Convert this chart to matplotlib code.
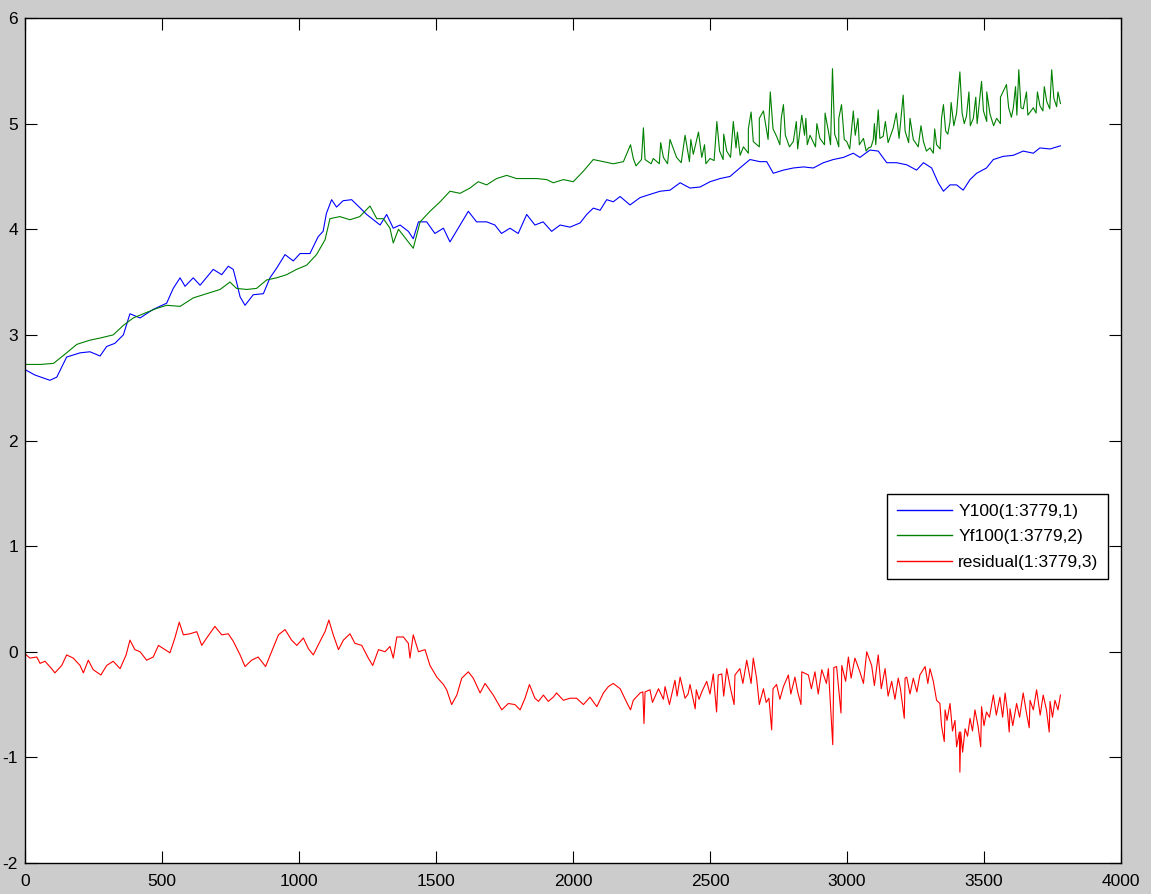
import matplotlib
matplotlib.use("Agg")
import matplotlib.pyplot as plt
import numpy as np

# Y100(:,1) - measured series
y100_x = [1, 36, 91, 116, 152, 201, 237, 274, 298, 328, 359, 383, 420, 467, 517, 541, 566, 584,
          614, 639, 687, 718, 742, 760, 772, 785, 803, 833, 870, 894, 918, 949, 979, 1004, 1040,
          1070, 1088, 1100, 1119, 1137, 1161, 1192, 1216, 1247, 1296, 1320, 1344, 1369, 1399,
          1417, 1436, 1466, 1496, 1527, 1551, 1588, 1618, 1648, 1685, 1715, 1739, 1770, 1800,
          1831, 1861, 1891, 1922, 1953, 1989, 2026, 2050, 2074, 2099, 2123, 2147, 2172, 2208,
          2245, 2281, 2318, 2354, 2391, 2427, 2464, 2500, 2537, 2573, 2609, 2646, 2682, 2707,
          2731, 2768, 2804, 2841, 2877, 2914, 2950, 2987, 3023, 3047, 3084, 3114, 3145, 3181,
          3218, 3254, 3279, 3309, 3333, 3352, 3376, 3400, 3424, 3449, 3473, 3509, 3534, 3570,
          3607, 3643, 3680, 3704, 3741, 3779]
y100_y = [2.67, 2.62, 2.57, 2.60, 2.79, 2.83, 2.84, 2.80, 2.89, 2.92, 3.00, 3.20, 3.16, 3.24, 3.30,
          3.44, 3.54, 3.46, 3.54, 3.47, 3.62, 3.57, 3.65, 3.62, 3.50, 3.36, 3.28, 3.38, 3.39, 3.54,
          3.63, 3.76, 3.70, 3.77, 3.77, 3.93, 3.98, 4.15, 4.28, 4.21, 4.27, 4.28, 4.22, 4.14, 4.04,
          4.14, 4.01, 4.04, 3.98, 3.91, 4.07, 4.07, 3.96, 4.01, 3.88, 4.04, 4.17, 4.07, 4.07, 4.04,
          3.96, 4.01, 3.96, 4.14, 4.04, 4.07, 3.98, 4.04, 4.02, 4.06, 4.14, 4.20, 4.18, 4.28, 4.26,
          4.31, 4.23, 4.30, 4.33, 4.36, 4.37, 4.44, 4.39, 4.40, 4.45, 4.48, 4.50, 4.58, 4.66, 4.64,
          4.64, 4.53, 4.56, 4.58, 4.59, 4.58, 4.63, 4.66, 4.68, 4.72, 4.68, 4.75, 4.74, 4.63, 4.63,
          4.61, 4.56, 4.63, 4.58, 4.44, 4.36, 4.42, 4.42, 4.37, 4.47, 4.53, 4.58, 4.66, 4.69, 4.70,
          4.74, 4.72, 4.77, 4.76, 4.79]

# Yf100(:,2) - fitted series (trace incl. spikes)
yf100_x = [1, 55, 104, 152, 189, 237, 274, 322, 359, 395, 432, 480, 517, 566, 614, 663, 712, 748,
           772, 809, 845, 882, 918, 955, 991, 1028, 1064, 1095, 1113, 1149, 1186, 1222, 1259, 1284,
           1308, 1332, 1344, 1363, 1399, 1417, 1442, 1478, 1515, 1551, 1588, 1624, 1654, 1685,
           1721, 1758, 1794, 1831, 1867, 1904, 1928, 1965, 2001, 2038, 2074, 2111, 2147, 2184,
           2210, 2220, 2250, 2257, 2263, 2293, 2330, 2354, 2378, 2409, 2439, 2458, 2470, 2500,
           2525, 2535, 2561, 2585, 2595, 2622, 2650, 2658, 2695, 2705, 2720, 2730, 2743, 2768,
           2775, 2804, 2835, 2845, 2865, 2901, 2932, 2947, 2955, 2962, 2980, 2990, 2999, 3023,
           3030, 3060, 3078, 3096, 3114, 3120, 3132, 3169, 3205, 3212, 3242, 3279, 3303, 3327,
           3352, 3360, 3376, 3400, 3412, 3420, 3436, 3461, 3491, 3498, 3522, 3546, 3582, 3590,
           3607, 3627, 3635, 3643, 3680, 3704, 3729, 3747, 3755, 3779]
yf100_y = [2.72, 2.72, 2.73, 2.83, 2.91, 2.95, 2.97, 3.00, 3.09, 3.16, 3.20, 3.25, 3.28, 3.27, 3.35,
           3.39, 3.43, 3.50, 3.44, 3.43, 3.44, 3.52, 3.54, 3.57, 3.62, 3.66, 3.76, 3.90, 4.10, 4.12,
           4.09, 4.12, 4.22, 4.10, 4.10, 4.01, 3.87, 4.00, 3.88, 3.82, 4.07, 4.17, 4.26, 4.36, 4.34,
           4.39, 4.45, 4.42, 4.48, 4.51, 4.48, 4.48, 4.48, 4.47, 4.44, 4.47, 4.45, 4.55, 4.66, 4.64,
           4.62, 4.64, 4.80, 4.67, 4.66, 4.96, 4.66, 4.67, 4.68, 4.85, 4.68, 4.89, 4.71, 4.92, 4.68,
           4.67, 5.02, 4.74, 4.74, 5.02, 4.77, 4.78, 5.11, 4.83, 5.12, 4.96, 5.30, 4.95, 4.88, 5.18,
           4.89, 4.83, 5.08, 4.89, 4.89, 4.86, 4.93, 5.52, 4.90, 4.85, 5.18, 4.85, 4.83, 5.12, 4.89,
           4.86, 4.77, 4.85, 5.13, 4.86, 4.88, 4.96, 5.27, 4.93, 4.85, 4.83, 4.77, 4.80, 5.18, 4.93,
           5.02, 5.10, 5.49, 5.10, 5.07, 5.05, 5.40, 5.12, 5.09, 5.05, 5.37, 5.15, 5.15, 5.51, 5.15,
           5.14, 5.15, 5.17, 5.21, 5.51, 5.24, 5.19]
# lower and upper edges of the noisy Yf100 band after x=2200
yf100_lo_x = [2230, 2285, 2315, 2345, 2395, 2425, 2485, 2515, 2548, 2575, 2610, 2640, 2680, 2712,
              2755, 2790, 2820, 2855, 2885, 2918, 2940, 2970, 3010, 3045, 3070, 3088, 3105, 3150,
              3190, 3225, 3260, 3290, 3315, 3340, 3368, 3390, 3428, 3450, 3475, 3510, 3535, 3560,
              3600, 3620, 3660, 3690, 3715, 3740, 3765]
yf100_lo_y = [4.60, 4.62, 4.62, 4.62, 4.63, 4.64, 4.62, 4.65, 4.66, 4.68, 4.70, 4.72, 4.78, 4.85,
              4.80, 4.78, 4.76, 4.80, 4.78, 4.80, 4.80, 4.78, 4.76, 4.80, 4.74, 4.78, 4.80, 4.82,
              4.86, 4.82, 4.78, 4.74, 4.72, 4.76, 4.90, 4.98, 5.00, 4.98, 5.00, 5.02, 4.98, 5.00,
              5.06, 5.08, 5.08, 5.10, 5.12, 5.14, 5.16]
yf100_hi_x = [2320, 2430, 2480, 2550, 2600, 2640, 2680, 2760, 2815, 2850, 2890, 2920, 2970, 3040,
              3100, 3140, 3180, 3230, 3270, 3320, 3345, 3380, 3445, 3470, 3510, 3560, 3615, 3655,
              3695, 3720, 3770]
yf100_hi_y = [4.82, 4.85, 4.80, 4.90, 4.92, 4.95, 5.05, 5.05, 5.02, 5.05, 5.00, 5.10, 5.05, 5.05,
              5.00, 5.02, 5.10, 5.05, 4.98, 4.95, 5.05, 5.20, 5.30, 5.25, 5.30, 5.25, 5.35, 5.30,
              5.30, 5.35, 5.30]

# residual(:,3)
res_x = [0, 18, 43, 55, 73, 97, 109, 134, 152, 176, 201, 213, 231, 249, 277, 298, 322, 347, 369,
         383, 401, 420, 444, 468, 487, 511, 529, 547, 563, 578, 602, 627, 645, 663, 693, 718, 742,
         760, 785, 803, 827, 851, 878, 900, 925, 949, 973, 992, 1016, 1034, 1052, 1077, 1095, 1109,
         1125, 1144, 1162, 1186, 1204, 1229, 1253, 1269, 1290, 1314, 1332, 1344, 1357, 1381, 1399,
         1405, 1417, 1436, 1460, 1478, 1503, 1527, 1539, 1557, 1576, 1594, 1618, 1636, 1661, 1679,
         1709, 1740, 1764, 1788, 1807, 1825, 1841, 1861, 1874, 1892, 1910, 1928, 1940, 1965, 1989,
         2013, 2038, 2062, 2087, 2111, 2129, 2147, 2172, 2198, 2220, 2245, 2255, 2259, 2263, 2281,
         2312, 2336, 2352, 2372, 2391, 2409, 2427, 2446, 2450, 2470, 2488, 2512, 2524, 2530, 2543,
         2561, 2588, 2591, 2609, 2634, 2658, 2670, 2695, 2715, 2725, 2730, 2743, 2768, 2786, 2810,
         2832, 2835, 2859, 2883, 2908, 2932, 2948, 2952, 2962, 2978, 2981, 3005, 3029, 3047, 3072,
         3090, 3114, 3139, 3163, 3187, 3209, 3212, 3218, 3242, 3266, 3285, 3303, 3315, 3327, 3339,
         3355, 3358, 3376, 3394, 3410, 3412, 3415, 3431, 3449, 3467, 3488, 3491, 3509, 3534, 3558,
         3577, 3592, 3595, 3619, 3643, 3665, 3668, 3692, 3716, 3738, 3741, 3759, 3779]
res_y = [-0.02, -0.06, -0.05, -0.11, -0.09, -0.16, -0.20, -0.13, -0.03, -0.06, -0.13, -0.20, -0.08,
         -0.17, -0.22, -0.13, -0.09, -0.16, -0.03, 0.11, 0.02, 0.00, -0.08, -0.05, 0.06, 0.02,
         -0.01, 0.13, 0.28, 0.16, 0.17, 0.19, 0.06, 0.13, 0.24, 0.16, 0.17, 0.10, -0.03, -0.14,
         -0.08, -0.05, -0.14, 0.00, 0.16, 0.21, 0.11, 0.06, 0.13, 0.03, -0.03, 0.10, 0.19, 0.30,
         0.16, 0.02, 0.11, 0.17, 0.08, 0.06, -0.06, -0.13, 0.02, 0.00, 0.05, -0.06, 0.14, 0.14,
         0.08, -0.06, 0.16, 0.00, 0.02, -0.13, -0.24, -0.31, -0.36, -0.50, -0.41, -0.25, -0.19,
         -0.25, -0.39, -0.30, -0.41, -0.55, -0.49, -0.50, -0.55, -0.44, -0.31, -0.44, -0.47, -0.41,
         -0.47, -0.43, -0.39, -0.46, -0.44, -0.44, -0.50, -0.43, -0.52, -0.39, -0.33, -0.30, -0.35,
         -0.49, -0.46, -0.39, -0.38, -0.68, -0.38, -0.36, -0.35, -0.33, -0.50, -0.27, -0.24, -0.44,
         -0.31, -0.54, -0.36, -0.38, -0.28, -0.21, -0.57, -0.22, -0.21, -0.16, -0.50, -0.22, -0.16,
         -0.08, -0.06, -0.25, -0.35, -0.44, -0.74, -0.35, -0.31, -0.33, -0.22, -0.24, -0.50, -0.19,
         -0.22, -0.19, -0.17, -0.16, -0.88, -0.15, -0.14, -0.58, -0.13, -0.05, -0.06, -0.19, 0.00,
         -0.13, -0.03, -0.16, -0.28, -0.25, -0.63, -0.25, -0.24, -0.25, -0.22, -0.14, -0.16, -0.28,
         -0.46, -0.49, -0.85, -0.55, -0.49, -0.65, -0.76, -1.14, -0.76, -0.73, -0.63, -0.55, -0.90,
         -0.52, -0.57, -0.41, -0.43, -0.39, -0.76, -0.54, -0.49, -0.39, -0.72, -0.46, -0.36, -0.41,
         -0.76, -0.47, -0.46, -0.41]
# lower edge of the noisy residual band after x=2200
res_lo_x = [2210, 2290, 2330, 2380, 2420, 2460, 2500, 2550, 2575, 2620, 2650, 2680, 2705, 2755,
            2795, 2820, 2870, 2895, 2925, 2995, 3015, 3060, 3100, 3125, 3150, 3175, 3195, 3230,
            3255, 3295, 3345, 3365, 3385, 3400, 3422, 3440, 3458, 3478, 3500, 3520, 3545, 3568,
            3585, 3605, 3630, 3655, 3680, 3705, 3728, 3750, 3770]
res_lo_y = [-0.55, -0.48, -0.45, -0.42, -0.40, -0.45, -0.40, -0.42, -0.35, -0.30, -0.30, -0.50,
            -0.48, -0.45, -0.40, -0.38, -0.35, -0.40, -0.30, -0.28, -0.25, -0.30, -0.32, -0.35,
            -0.42, -0.45, -0.35, -0.40, -0.38, -0.30, -0.70, -0.65, -0.75, -0.90, -0.95, -0.80,
            -0.75, -0.70, -0.70, -0.62, -0.60, -0.62, -0.55, -0.70, -0.62, -0.58, -0.55, -0.60,
            -0.55, -0.62, -0.55]

labels = ["Y100(1:3779,1)", "Yf100(1:3779,2)", "residual(1:3779,3)"]
colors = ["#0000ff", "#008000", "#ff0000"]


def merged(*pairs):
    # put several sets of readings on one x-ordered trace
    xs = np.concatenate([np.asarray(p[0], float) for p in pairs])
    ys = np.concatenate([np.asarray(p[1], float) for p in pairs])
    order = np.argsort(xs, kind="stable")
    return xs[order], ys[order]


plt.rcParams["font.family"] = ["Liberation Sans", "DejaVu Sans"]
plt.rcParams["axes.unicode_minus"] = False

W, H = 1151, 894
fig = plt.figure(figsize=(W / 100, H / 100), dpi=100, facecolor="#cccccc")
ax = fig.add_axes([25 / W, 1 - 863 / H, (1121 - 25) / W, (863 - 18) / H])

gx, gy = merged((yf100_x, yf100_y), (yf100_lo_x, yf100_lo_y), (yf100_hi_x, yf100_hi_y))
rx, ry = merged((res_x, res_y), (res_lo_x, res_lo_y))

ax.plot(y100_x, y100_y, color=colors[0], lw=0.8, label=labels[0])
ax.plot(gx, gy, color=colors[1], lw=0.8, label=labels[1])
ax.plot(rx, ry, color=colors[2], lw=0.8, label=labels[2])

ax.set_xlim(0, 4000)
ax.set_ylim(-2, 6)
ax.set_xticks(range(0, 4001, 500))
ax.set_yticks(range(-2, 7))
ax.tick_params(direction="in", length=8.5, width=0.8, top=True, right=True,
               labelsize=12.5, colors="black")
ax.tick_params(axis="x", pad=8)
ax.tick_params(axis="y", pad=5)
for sp in ax.spines.values():
    sp.set_linewidth(1.0)

leg = ax.legend(loc="upper left", bbox_to_anchor=(887 / W, 1 - 494 / H),
                bbox_transform=fig.transFigure, fontsize=12.5, fancybox=False,
                edgecolor="black", framealpha=1, borderaxespad=0, borderpad=0.55,
                handlelength=3.2, handletextpad=0.35, labelspacing=0.6)
leg.get_frame().set_linewidth(1.0)
for line in leg.get_lines():
    line.set_linewidth(1.0)

fig.savefig("out.png", dpi=100, facecolor=fig.get_facecolor())
